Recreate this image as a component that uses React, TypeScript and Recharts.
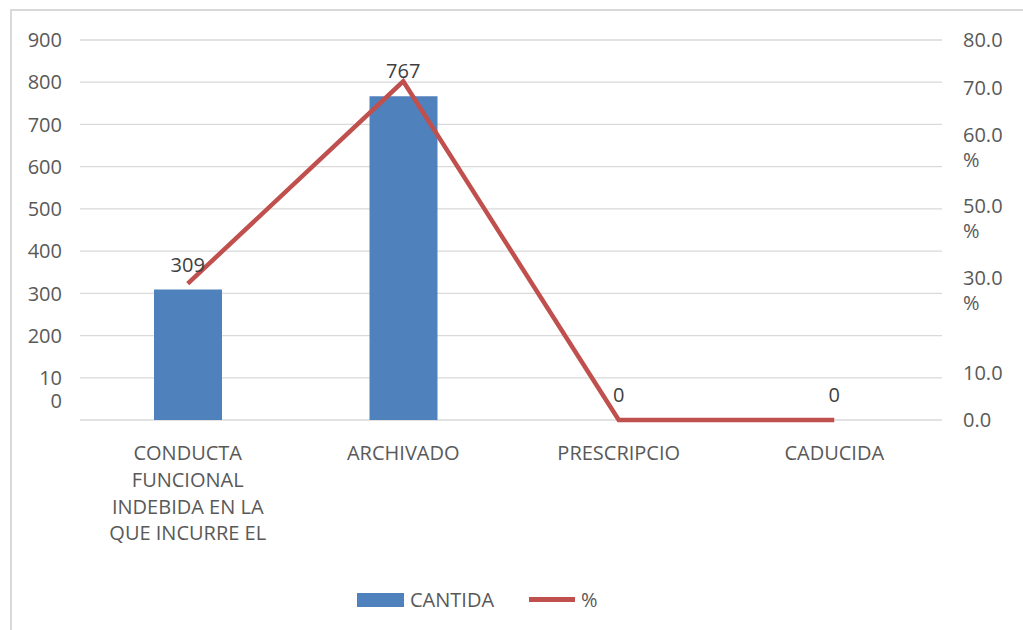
import React from 'react';
import { ComposedChart, Bar, Line, XAxis, YAxis, CartesianGrid, Legend, LabelList } from 'recharts';

const categories = ['CONDUCTA FUNCIONAL INDEBIDA EN LA QUE INCURRE EL', 'ARCHIVADO', 'PRESCRIPCIO', 'CADUCIDA'];
const categoryLines = [
  ['CONDUCTA', 'FUNCIONAL', 'INDEBIDA EN LA', 'QUE INCURRE EL'],
  ['ARCHIVADO'],
  ['PRESCRIPCIO'],
  ['CADUCIDA'],
];
const cantidad = [309, 767, 0, 0];
const porcentaje = [28.7, 71.3, 0, 0];

const leftTicks = [0, 100, 200, 300, 400, 500, 600, 700, 800, 900];
const leftTickLabels = [[], ['10', '0'], ['200'], ['300'], ['400'], ['500'], ['600'], ['700'], ['800'], ['900']];
const rightTicks = [0, 10, 30, 45, 60, 70, 80];
const rightTickLabels = [['0.0'], ['10.0'], ['30.0', '%'], ['50.0', '%'], ['60.0', '%'], ['70.0'], ['80.0']];

const data = categories.map((name, i) => ({
  name,
  lines: categoryLines[i],
  cantidad: cantidad[i],
  pct: porcentaje[i],
}));

const FONT = '"Open Sans", sans-serif';
const TEXT = '#595959';

const LeftTick = (props: any) => {
  const { x, y, payload } = props;
  const idx = leftTicks.indexOf(payload.value);
  const lines = idx >= 0 ? leftTickLabels[idx] : [];
  return (
    <g>
      {lines.map((l: string, i: number) => (
        <text key={i} x={x} y={y + i * 23} dy="0.36em" textAnchor="end" fontSize={20} fill={TEXT} fontFamily={FONT}>
          {l}
        </text>
      ))}
    </g>
  );
};

const RightTick = (props: any) => {
  const { x, y, payload } = props;
  const idx = rightTicks.indexOf(payload.value);
  const lines = idx >= 0 ? rightTickLabels[idx] : [];
  return (
    <g>
      {lines.map((l: string, i: number) => (
        <text key={i} x={x} y={y + i * 25} dy="0.36em" textAnchor="start" fontSize={20} fill={TEXT} fontFamily={FONT}>
          {l}
        </text>
      ))}
    </g>
  );
};

const XTick = (props: any) => {
  const { x, y, index } = props;
  const lines = categoryLines[index] || [];
  return (
    <g>
      {lines.map((l: string, i: number) => (
        <text key={i} x={x} y={y + 33 + i * 26.7} dy="0.36em" textAnchor="middle" fontSize={20} fill={TEXT} fontFamily={FONT}>
          {l}
        </text>
      ))}
    </g>
  );
};

const LegendContent = (props: any) => {
  const { payload = [] } = props;
  const items = [...payload]
    .filter((p: any) => p.type !== 'none')
    .sort((a: any, b: any) => (a.type === 'rect' ? -1 : 0) - (b.type === 'rect' ? -1 : 0));
  return (
    <div style={{ display: 'flex', alignItems: 'center', fontFamily: FONT, fontSize: 20, color: TEXT }}>
      {items.map((p: any, i: number) => (
        <div key={i} style={{ display: 'flex', alignItems: 'center', marginRight: i === 0 ? 35 : 0 }}>
          {p.type === 'rect' ? (
            <div style={{ width: 47, height: 14, background: p.color, marginRight: 6 }} />
          ) : (
            <div style={{ width: 46, height: 5, background: p.color, marginRight: 6 }} />
          )}
          <span>{p.value}</span>
        </div>
      ))}
    </div>
  );
};

export default function App() {
  return (
    <div style={{ position: 'absolute', left: 0, top: 0, width: 1023, height: 630, background: '#fff', overflow: 'hidden' }}>
      <div
        style={{
          position: 'absolute',
          left: 10,
          top: 9,
          width: 1040,
          height: 660,
          border: '2px solid #d9d9d9',
          boxSizing: 'border-box',
        }}
      />
      <div style={{ position: 'absolute', left: 0, top: 0 }}>
        <ComposedChart width={1023} height={630} data={data} margin={{ top: 40, right: 0, bottom: 60, left: 0 }}>
          <CartesianGrid yAxisId="left" vertical={false} stroke="#d9d9d9" strokeWidth={1.3} />
          <XAxis
            dataKey="name"
            axisLine={false}
            tickLine={false}
            tickSize={0}
            tickMargin={0}
            height={150}
            interval={0}
            tick={<XTick />}
          />
          <YAxis
            yAxisId="left"
            orientation="left"
            domain={[0, 900]}
            ticks={leftTicks}
            width={80}
            axisLine={false}
            tickLine={false}
            tickSize={0}
            tickMargin={18}
            tick={<LeftTick />}
          />
          <YAxis
            yAxisId="right"
            orientation="right"
            domain={[0, 80]}
            ticks={rightTicks}
            width={81}
            axisLine={false}
            tickLine={false}
            tickSize={0}
            tickMargin={21}
            tick={<RightTick />}
          />
          <Legend
            verticalAlign="middle"
            layout="horizontal"
            content={<LegendContent />}
            wrapperStyle={{ top: 586, left: 357, width: 400, height: 24 }}
          />
          <Bar yAxisId="left" dataKey="cantidad" name="CANTIDA" fill="#4f81bd" barSize={68} isAnimationActive={false} legendType="rect" />
          <Line
            yAxisId="right"
            dataKey="pct"
            name="%"
            type="linear"
            stroke="#c0504d"
            strokeWidth={4.5}
            dot={false}
            activeDot={false}
            isAnimationActive={false}
            legendType="line"
          />
          <Line
            yAxisId="left"
            dataKey="cantidad"
            name="etiquetas"
            stroke="none"
            dot={false}
            activeDot={false}
            isAnimationActive={false}
            legendType="none"
          >
            <LabelList dataKey="cantidad" position="top" offset={18} fill="#404040" fontSize={20} fontFamily={FONT} />
          </Line>
        </ComposedChart>
      </div>
    </div>
  );
}
